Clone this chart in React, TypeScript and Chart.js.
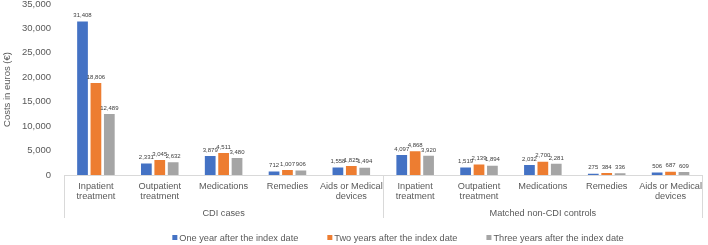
import React, { useEffect, useRef } from "react";
import { Chart, registerables } from "chart.js";

Chart.register(...registerables);

const categories: string[][] = [
  ["Inpatient", "treatment"],
  ["Outpatient", "treatment"],
  ["Medications"],
  ["Remedies"],
  ["Aids or Medical", "devices"],
  ["Inpatient", "treatment"],
  ["Outpatient", "treatment"],
  ["Medications"],
  ["Remedies"],
  ["Aids or Medical", "devices"],
];

const groups = ["CDI cases", "Matched non-CDI controls"];
const groupSizes = [5, 5];

const seriesNames = [
  "One year after the index date",
  "Two years after the index date",
  "Three years after the index date",
];

const oneYear = [31408, 2331, 3879, 712, 1558, 4097, 1519, 2032, 275, 506];
const twoYears = [18806, 3045, 4511, 1007, 1825, 4868, 2139, 2700, 384, 687];
const threeYears = [12489, 2632, 3480, 906, 1494, 3920, 1894, 2281, 336, 609];

const seriesColors = ["#4472C4", "#ED7D31", "#A5A5A5"];

const yMax = 35000;
const yStep = 5000;
const yTitle = "Costs in euros (€)";

const FONT = "'Liberation Sans', Arial, sans-serif";
const TEXT = "#595959";
const LINE = "#D9D9D9";

const fmt = (v: number) => v.toLocaleString("en-US");

const extrasPlugin = {
  id: "extras",
  afterDatasetsDraw(chart: any) {
    const ctx = chart.ctx;
    ctx.save();
    ctx.font = `6px ${FONT}`;
    ctx.fillStyle = "#404040";
    ctx.textAlign = "center";
    ctx.textBaseline = "bottom";
    chart.data.datasets.forEach((ds: any, i: number) => {
      const meta = chart.getDatasetMeta(i);
      meta.data.forEach((bar: any, j: number) => {
        ctx.fillText(fmt(ds.data[j]), bar.x, bar.y - 3);
      });
    });
    ctx.restore();
  },
  afterDraw(chart: any) {
    const ctx = chart.ctx;
    const area = chart.chartArea;
    const xScale = chart.scales.x;
    ctx.save();
    // group separators
    ctx.strokeStyle = LINE;
    ctx.lineWidth = 1;
    const lineBottom = area.bottom + 43;
    const bounds: number[] = [area.left];
    let idx = 0;
    groupSizes.forEach((n, gi) => {
      idx += n;
      if (gi < groupSizes.length - 1) {
        const a = xScale.getPixelForValue(idx - 1);
        const b = xScale.getPixelForValue(idx);
        bounds.push((a + b) / 2);
      } else {
        bounds.push(area.right);
      }
    });
    bounds.forEach((x) => {
      const px = Math.round(x) + 0.5;
      ctx.beginPath();
      ctx.moveTo(px, area.bottom);
      ctx.lineTo(px, lineBottom);
      ctx.stroke();
    });
    // group labels
    ctx.font = `9.2px ${FONT}`;
    ctx.fillStyle = TEXT;
    ctx.textAlign = "center";
    ctx.textBaseline = "middle";
    groups.forEach((g, gi) => {
      ctx.fillText(g, (bounds[gi] + bounds[gi + 1]) / 2, area.bottom + 38);
    });
    // legend
    const box = 5;
    const boxGap = 2;
    const itemGap = 29;
    const widths = seriesNames.map((s) => box + boxGap + ctx.measureText(s).width);
    const total = widths.reduce((a, b) => a + b, 0) + itemGap * (widths.length - 1);
    let x = 398 - total / 2;
    const y = 238;
    ctx.textAlign = "left";
    seriesNames.forEach((s, i) => {
      ctx.fillStyle = seriesColors[i];
      ctx.fillRect(x, y - box / 2 - 0.5, box, box);
      ctx.fillStyle = TEXT;
      ctx.fillText(s, x + box + boxGap, y);
      x += widths[i] + itemGap;
    });
    ctx.restore();
  },
};

export default function App() {
  const ref = useRef<HTMLCanvasElement>(null);
  useEffect(() => {
    document.body.style.margin = "0";
    const canvas = ref.current!;
    const chart = new Chart(canvas, {
      type: "bar",
      data: {
        labels: categories,
        datasets: [oneYear, twoYears, threeYears].map((d, i) => ({
          label: seriesNames[i],
          data: d,
          backgroundColor: seriesColors[i],
          categoryPercentage: 0.63,
          barPercentage: 0.8,
        })),
      },
      options: {
        responsive: false,
        animation: false,
        devicePixelRatio: 1,
        layout: { padding: { top: 4, right: 1, bottom: 23, left: 0 } },
        plugins: {
          legend: { display: false },
          tooltip: { enabled: false },
        },
        scales: {
          x: {
            grid: { display: false, drawTicks: false },
            border: { display: true, color: LINE, width: 1 },
            ticks: {
              color: TEXT,
              font: { family: FONT, size: 9.2, lineHeight: 1.15 },
              padding: 6,
              maxRotation: 0,
              autoSkip: false,
            },
            afterFit: (scale: any) => {
              scale.height = 47;
            },
          },
          y: {
            min: 0,
            max: yMax,
            grid: { display: false, drawTicks: false },
            border: { display: false },
            ticks: {
              stepSize: yStep,
              color: TEXT,
              font: { family: FONT, size: 9.5 },
              padding: 13,
              callback: (v: any) => fmt(Number(v)),
            },
            title: {
              display: true,
              text: yTitle,
              color: TEXT,
              font: { family: FONT, size: 9.5 },
              padding: { top: 2, bottom: 0 },
            },
            afterFit: (scale: any) => {
              scale.width = 64;
              scale.paddingTop = 0;
              scale.paddingBottom = 0;
            },
          },
        },
      },
      plugins: [extrasPlugin],
    });
    return () => chart.destroy();
  }, []);
  return (
    <div style={{ width: 708, height: 245, position: "relative" }}>
      <canvas ref={ref} width={708} height={245} />
    </div>
  );
}
